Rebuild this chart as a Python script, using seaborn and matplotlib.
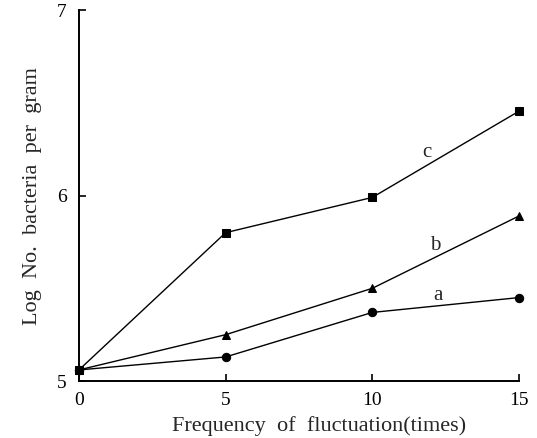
import pandas as pd
import matplotlib.pyplot as plt
import seaborn as sns

# Data
frequency = [0, 5, 10, 15]
curve_a = [5.06, 5.13, 5.37, 5.45]
curve_b = [5.06, 5.25, 5.50, 5.89]
curve_c = [5.06, 5.80, 5.99, 6.455]
curve_names = ["a", "b", "c"]
label_pos = {"a": (12.25, 5.46), "b": (12.15, 5.73), "c": (11.85, 6.23)}

df = pd.DataFrame({
    "freq": frequency * 3,
    "logn": curve_a + curve_b + curve_c,
    "curve": [n for n in curve_names for _ in frequency],
})

sns.set_style("ticks")
plt.rcParams['font.family'] = ['Liberation Serif', 'DejaVu Serif']

fig = plt.figure(figsize=(5.37, 4.38), dpi=100)
ax = fig.add_axes([0.147, 0.130, 0.8195, 0.847])

sns.lineplot(data=df, x="freq", y="logn", style="curve",
             markers={"a": "o", "b": "^", "c": "s"}, dashes=False,
             color="black", linewidth=1.0, markersize=6,
             markeredgecolor="black", legend=False, ax=ax)
for line in ax.lines:
    line.set_clip_on(False)

for name, (lx, ly) in label_pos.items():
    ax.text(lx, ly, name, fontsize=15, ha="center", va="center")

ax.set_xlim(0, 15)
ax.set_ylim(5, 7)
ax.set_xticks([0, 5, 10, 15])
ax.set_yticks([5, 6, 7])
ax.tick_params(direction="in", length=5, width=1.2, labelsize=14, colors="black")
ax.tick_params(axis="x", pad=8)
ax.tick_params(axis="y", pad=9)
for s in ["top", "right"]:
    ax.spines[s].set_visible(False)
for s in ["left", "bottom"]:
    ax.spines[s].set_linewidth(1.4)
    ax.spines[s].set_color("black")
ax.set_xlabel("Frequency  of  fluctuation(times)", fontsize=16)
ax.xaxis.set_label_coords(0.545, -0.095)
ax.set_ylabel("Log  No.  bacteria  per  gram", fontsize=16)
ax.yaxis.set_label_coords(-0.085, 0.50)

fig.savefig("out.png", dpi=100)
